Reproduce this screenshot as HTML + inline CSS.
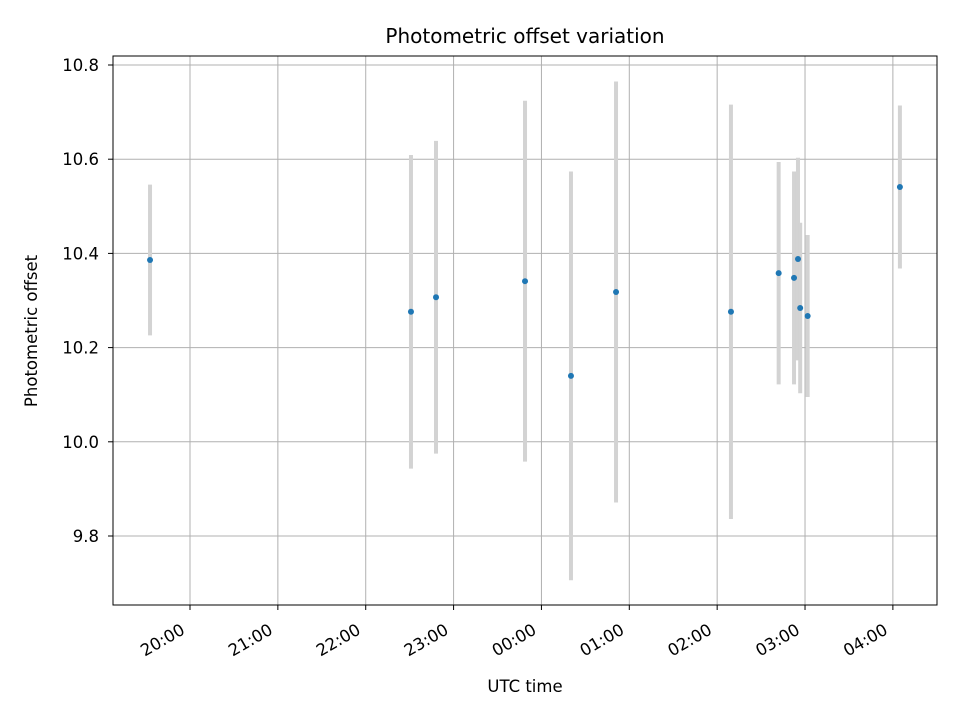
<!DOCTYPE html>
<html><head><meta charset="utf-8"><style>
body{margin:0;background:#fff;font-family:"Liberation Sans","DejaVu Sans",sans-serif}
text{font-family:"DejaVu Sans","Liberation Sans",sans-serif}
</style></head><body>
<svg id="chart" width="960" height="720" xmlns="http://www.w3.org/2000/svg"></svg>
<script>
const times=[-0.455,2.515,2.80,3.813,4.336,4.849,6.157,6.70,6.875,6.92,6.945,7.03,8.08];
const values=[10.386,10.276,10.307,10.341,10.140,10.318,10.276,10.358,10.348,10.388,10.284,10.267,10.541];
const errors=[0.160,0.333,0.332,0.383,0.434,0.447,0.440,0.236,0.226,0.215,0.181,0.172,0.173];
const yTicks=[9.8,10.0,10.2,10.4,10.6,10.8];
const xTicks=[0,1,2,3,4,5,6,7,8];
const xTickLabels=["20:00","21:00","22:00","23:00","00:00","01:00","02:00","03:00","04:00"];
const L=113,R=937,T=56,B=605;
const xs=t=>190+87.86*t;
const ys=v=>65+(10.8-v)*471;
const svg=document.getElementById('chart');
const NS='http://www.w3.org/2000/svg';
function mk(tag,attrs,parent){const e=document.createElementNS(NS,tag);for(const k in attrs)e.setAttribute(k,attrs[k]);(parent||svg).appendChild(e);return e;}
const grid=mk('g',{});


xTicks.forEach((t,i)=>{const x=xs(t);
 mk('line',{x1:x,x2:x,y1:T,y2:B,stroke:'#b0b0b0','stroke-width':1},grid);
 mk('line',{x1:x,x2:x,y1:B,y2:B+5,stroke:'#000'});
 const px=x-4,py=B+28;
 const lb=mk('text',{x:px,y:py,'font-size':16.5,'text-anchor':'end',transform:`rotate(-30 ${px} ${py})`});
 lb.textContent=xTickLabels[i];
 
 
});
yTicks.forEach(v=>{const y=ys(v);
 mk('line',{x1:L,x2:R,y1:y,y2:y,stroke:'#b0b0b0','stroke-width':1},grid);
 mk('line',{x1:L-5,x2:L,y1:y,y2:y,stroke:'#000'});
 const lb=mk('text',{x:L-14,y:y+6,'font-size':16.5,'text-anchor':'end'});
 lb.textContent=v.toFixed(1);
 
 
});
const eg=mk('g',{});


times.forEach((t,i)=>{
 const b=mk('line',{x1:xs(t),x2:xs(t),y1:ys(values[i]+errors[i]),y2:ys(values[i]-errors[i]),stroke:'#d3d3d3','stroke-width':4},eg);
 
 
});
const pg=mk('g',{});


times.forEach((t,i)=>{
 const c=mk('circle',{cx:xs(t),cy:ys(values[i]),r:3,fill:'#1f77b4'},pg);
 
 
});
const fr=mk('rect',{x:L,y:T,width:R-L,height:B-T,fill:'none',stroke:'#000','stroke-width':1});


const ti=mk('text',{x:525,y:43,'font-size':20,'text-anchor':'middle'});
ti.textContent='Photometric offset variation';


const xt=mk('text',{x:525,y:692,'font-size':16.5,'text-anchor':'middle'});
xt.textContent='UTC time';


const yt=mk('text',{x:37,y:331,'font-size':16.5,'text-anchor':'middle',transform:'rotate(-90 37 331)'});
yt.textContent='Photometric offset';


</script>
</body></html>
